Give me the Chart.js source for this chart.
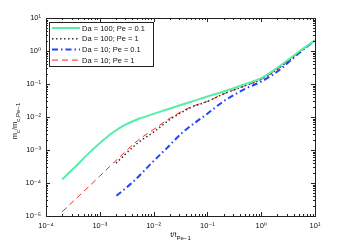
<!DOCTYPE html>
<html>
<head>
<meta charset="utf-8">
<script src="https://cdn.jsdelivr.net/npm/chart.js@4"></script>
<style>
  html, body { margin: 0; padding: 0; background: #fff; }
  #wrap { width: 349px; height: 245px; }
</style>
</head>
<body>
<div id="wrap"><canvas id="chart"></canvas></div>
<script>
// time (t / t_Pe-1) and m_c / m_c,Pe-1 for each case
const tDa100Pe01 = [2e-4, 3.5e-4, 6.2e-4, 1.26e-3, 2.57e-3, 5.2e-3, 1.07e-2, 2.3e-2, 5e-2, 0.1, 0.2, 0.5, 1, 2, 5, 10];
const mDa100Pe01 = [1.29e-4, 3.1e-4, 7.9e-4, 2.24e-3, 5.1e-3, 8.7e-3, 0.0129, 0.0195, 0.029, 0.042, 0.059, 0.099, 0.15, 0.31, 0.95, 2.1];

const tDa100Pe1 = [2e-3, 5e-3, 1e-2, 2e-2, 5e-2, 0.1, 0.2, 0.5, 1, 2, 5, 10];
const mDa100Pe1 = [4.0e-4, 1.6e-3, 3.5e-3, 8.3e-3, 0.0195, 0.0295, 0.05, 0.088, 0.138, 0.28, 0.89, 2.1];

const tDa10Pe01 = [2.04e-3, 4.2e-3, 8.5e-3, 1.74e-2, 3.55e-2, 0.1, 0.2, 0.5, 1, 2, 5, 10];
const mDa10Pe01 = [4.1e-5, 1.1e-4, 3.55e-4, 1.12e-3, 3.55e-3, 0.0126, 0.030, 0.071, 0.118, 0.24, 0.85, 2.1];

const tDa10Pe1 = [2e-4, 5e-4, 1e-3, 2e-3, 5e-3, 1e-2, 2e-2, 5e-2, 0.1, 0.2, 0.5, 1, 2, 5, 10];
const mDa10Pe1 = [1.35e-5, 5.5e-5, 1.62e-4, 4.8e-4, 1.9e-3, 4.2e-3, 9.1e-3, 0.0205, 0.030, 0.05, 0.089, 0.138, 0.28, 0.89, 2.1];

const seriesLabels = ['Da = 100; Pe = 0.1', 'Da = 100; Pe = 1', 'Da = 10; Pe = 0.1', 'Da = 10; Pe = 1'];
const decades = [1e-5, 1e-4, 1e-3, 1e-2, 1e-1, 1, 10];
const supers = {'-': '\u207B', '0': '\u2070', '1': '\u00B9', '2': '\u00B2', '3': '\u00B3', '4': '\u2074', '5': '\u2075'};

const toPoints = (xs, ys) => xs.map((x, i) => ({x: x, y: ys[i]}));
const powLabel = v => {
  const e = Math.round(Math.log10(v));
  return '10' + String(e).split('').map(c => supers[c]).join('');
};

const FONT = '"Liberation Sans", Arial, "DejaVu Sans", sans-serif';

// draw text with a lowered subscript part
function drawSub(ctx, parts, cx, cy) {
  let w = 0;
  parts.forEach(p => { ctx.font = (p.sub ? 6 : 7.5) + 'px ' + FONT; p.w = ctx.measureText(p.text).width; w += p.w; });
  let x = cx - w / 2;
  parts.forEach(p => {
    ctx.font = (p.sub ? 6 : 7.5) + 'px ' + FONT;
    ctx.fillText(p.text, x, cy + (p.sub ? 3 : 0));
    x += p.w;
  });
}

const framePlugin = {
  id: 'frame',
  afterDatasetsDraw(chart) {
    const {ctx, chartArea: a, scales} = chart;
    ctx.save();
    ctx.strokeStyle = '#222';
    ctx.lineWidth = 1;
    ctx.strokeRect(a.left + 0.5, a.top + 0.5, a.right - a.left, a.bottom - a.top);
    // inward ticks on all four sides
    ctx.beginPath();
    for (let e = -4; e <= 1; e++) {
      for (let k = 1; k <= 9; k++) {
        const v = k * Math.pow(10, e);
        if (v > 10 + 1e-9) break;
        const len = k === 1 ? 4 : 2;
        const x = Math.round(scales.x.getPixelForValue(v)) + 0.5;
        ctx.moveTo(x, a.bottom); ctx.lineTo(x, a.bottom - len);
        ctx.moveTo(x, a.top); ctx.lineTo(x, a.top + len);
      }
    }
    for (let e = -5; e <= 1; e++) {
      for (let k = 1; k <= 9; k++) {
        const v = k * Math.pow(10, e);
        if (v > 10 + 1e-9) break;
        const len = k === 1 ? 4 : 2;
        const y = Math.round(scales.y.getPixelForValue(v)) + 0.5;
        ctx.moveTo(a.left, y); ctx.lineTo(a.left + len, y);
        ctx.moveTo(a.right, y); ctx.lineTo(a.right - len, y);
      }
    }
    ctx.stroke();

    // legend box
    const lx = 49, ly = 22, lw = 104, lh = 44;
    ctx.fillStyle = '#fff';
    ctx.fillRect(lx, ly, lw, lh);
    ctx.strokeRect(lx + 0.5, ly + 0.5, lw, lh);
    chart.data.datasets.forEach((ds, i) => {
      const y = 28 + i * 10.7;
      ctx.strokeStyle = ds.borderColor;
      ctx.lineWidth = ds.borderWidth;
      ctx.setLineDash(ds.borderDash || []);
      ctx.beginPath();
      ctx.moveTo(52, y); ctx.lineTo(80, y);
      ctx.stroke();
      ctx.setLineDash([]);
      ctx.fillStyle = '#111';
      ctx.font = '7.5px ' + FONT;
      ctx.textBaseline = 'middle';
      ctx.textAlign = 'left';
      ctx.fillText(ds.label, 82, y + 0.5);
    });

    // axis titles
    ctx.fillStyle = '#111';
    ctx.textBaseline = 'alphabetic';
    ctx.textAlign = 'left';
    drawSub(ctx, [{text: 't/t'}, {text: 'Pe\u22121', sub: true}], (a.left + a.right) / 2, 237);
    ctx.save();
    ctx.translate(17, (a.top + a.bottom) / 2 + 4);
    ctx.rotate(-Math.PI / 2);
    drawSub(ctx, [{text: 'm'}, {text: 'c', sub: true}, {text: '/m'}, {text: 'c,Pe\u22121', sub: true}], 0, 0);
    ctx.restore();
    ctx.restore();
  }
};

const ctx = document.getElementById('chart').getContext('2d');
new Chart(ctx, {
  type: 'line',
  data: {
    datasets: [
      {label: seriesLabels[0], data: toPoints(tDa100Pe01, mDa100Pe01), borderColor: '#55eea8', borderWidth: 2},
      {label: seriesLabels[1], data: toPoints(tDa100Pe1, mDa100Pe1), borderColor: '#333333', borderWidth: 1.5, borderDash: [1.5, 2.5]},
      {label: seriesLabels[2], data: toPoints(tDa10Pe01, mDa10Pe01), borderColor: '#2244ff', borderWidth: 2, borderDash: [6, 3, 1.5, 3]},
      {label: seriesLabels[3], data: toPoints(tDa10Pe1, mDa10Pe1), borderColor: '#ff2020', borderWidth: 1, borderDash: [6, 4]}
    ]
  },
  options: {
    responsive: true,
    maintainAspectRatio: false,
    animation: false,
    parsing: false,
    elements: {
      point: {radius: 0},
      line: {cubicInterpolationMode: 'monotone', fill: false}
    },
    layout: {padding: {left: 0, right: 34, top: 18, bottom: 0}},
    plugins: {legend: {display: false}, tooltip: {enabled: false}},
    scales: {
      x: {
        type: 'logarithmic',
        min: 1e-4,
        max: 10,
        grid: {display: false, drawTicks: false},
        border: {display: false},
        afterBuildTicks: s => { s.ticks = decades.filter(v => v >= 1e-4).map(v => ({value: v})); },
        afterFit: s => { s.height = 29; },
        ticks: {
          autoSkip: false,
          maxRotation: 0,
          padding: 5,
          color: '#111',
          font: {family: FONT, size: 7.5},
          callback: v => powLabel(v)
        }
      },
      y: {
        type: 'logarithmic',
        min: 1e-5,
        max: 10,
        grid: {display: false, drawTicks: false},
        border: {display: false},
        afterBuildTicks: s => { s.ticks = decades.map(v => ({value: v})); },
        afterFit: s => { s.width = 46; },
        ticks: {
          autoSkip: false,
          padding: 5,
          color: '#111',
          font: {family: FONT, size: 7.5},
          callback: v => powLabel(v)
        }
      }
    }
  },
  plugins: [framePlugin]
});
</script>
</body>
</html>
